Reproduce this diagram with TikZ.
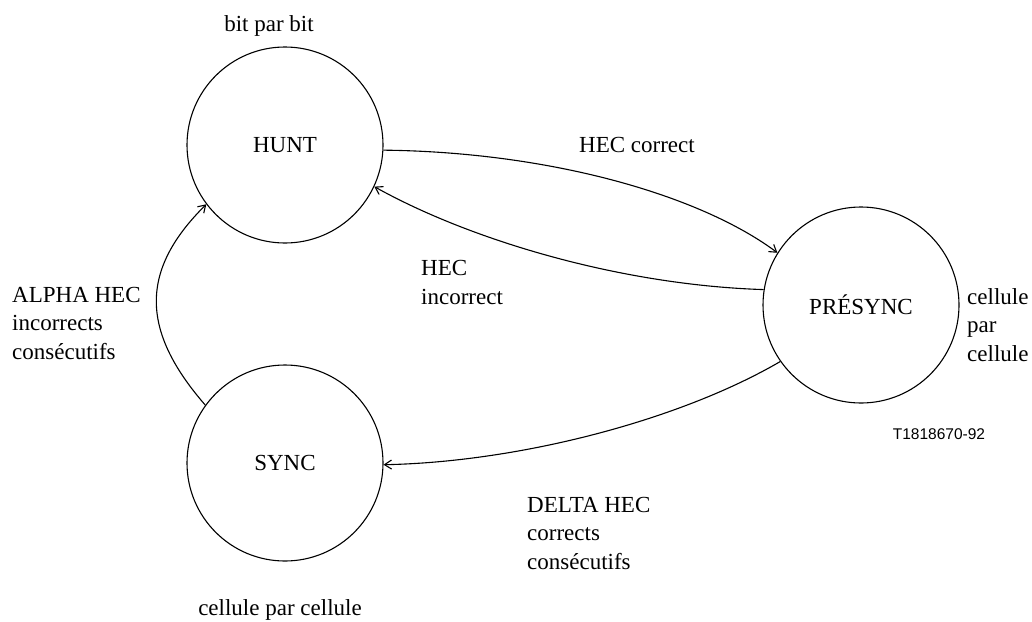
\documentclass[tikz,border=0pt]{standalone}
\usepackage{fontspec}
\setmainfont{Liberation Serif}
\newfontfamily\labelsans{Liberation Sans}
\usetikzlibrary{arrows.meta}
\begin{document}
\begin{tikzpicture}[x=1pt,y=-1pt,
  state/.style={circle,draw,line width=1.1pt,minimum size=196pt,inner sep=0pt,font=\fontsize{23}{28.5}\selectfont},
  txt/.style={inner sep=0pt,font=\fontsize{23}{28.5}\selectfont},
  conn/.style={line width=1.1pt,-{Straight Barb[length=7pt,width=9pt,line width=1.1pt]}}]
\useasboundingbox (0,0) rectangle (1032,621);
\node[state] (hunt) at (285,145) {HUNT};
\node[state] (sync) at (285,463) {SYNC};
\node[state] (pres) at (861,305) {PRÉSYNC};

\node[txt,anchor=base] (l1) at (269,31) {bit par bit};
\node[txt,anchor=base] (l2) at (280,615) {cellule par cellule};
\node[txt,anchor=base west,align=left] (l3) at (967,361) {cellule\\par\\cellule};
\node[txt,anchor=base] (l4) at (637,152) {HEC correct};
\node[txt,anchor=base west,align=left] (l5) at (421,304) {HEC\\incorrect};
\node[txt,anchor=base west,align=left] (l6) at (12,359) {ALPHA HEC\\incorrects\\consécutifs};
\node[txt,anchor=base west,align=left] (l7) at (527,569) {DELTA HEC\\corrects\\consécutifs};
\node[inner sep=0pt,anchor=base,font=\labelsans\fontsize{15.5}{18}\selectfont] (ref) at (939,439) {T1818670-92};

\draw[conn] (hunt.-3) .. controls (550,152) and (700,195) .. (pres.148);
\draw[conn] (pres.171) .. controls (620,285) and (470,240) .. (hunt.-25);
\draw[conn] (pres.215) .. controls (680,420) and (520,462) .. (sync.-1);
\draw[conn] (sync.144) .. controls (140,330) and (140,270) .. (hunt.217);
\end{tikzpicture}
\end{document}
